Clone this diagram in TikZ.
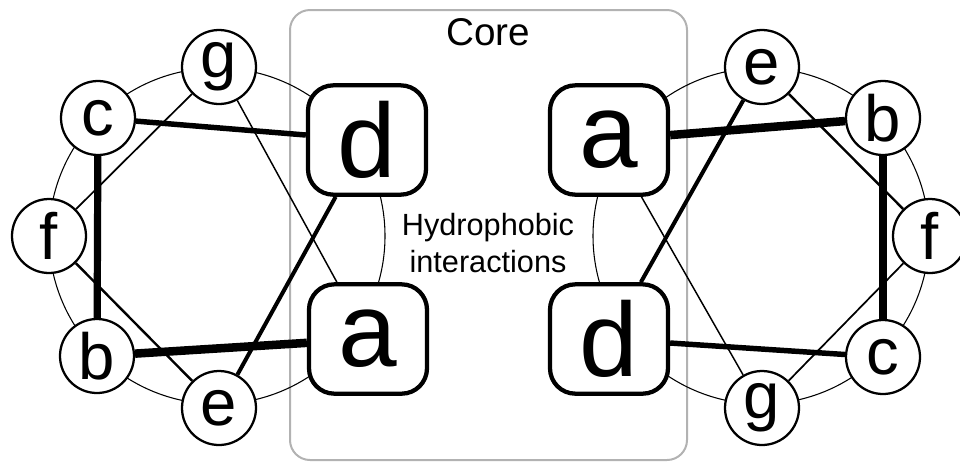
\documentclass[tikz,border=0pt]{standalone}
\usepackage{fontspec}
\setmainfont{Liberation Sans}

\begin{document}
\begin{tikzpicture}[x=0.75pt, y=-0.75pt,
  wheelres/.style={circle, draw, line width=1.7pt, fill=white, minimum size=55.5pt, inner sep=0pt, font=\fontsize{49}{49}\selectfont},
  coreres/.style={rectangle, rounded corners=19pt, draw, line width=3.2pt, fill=white, minimum width=88.5pt, minimum height=82pt, inner sep=0pt, font=\fontsize{79}{79}\selectfont}]
  \useasboundingbox (0,0) rectangle (960,462);
  % core region
  \draw[black!30, line width=1.5pt, rounded corners=15pt] (290,10) rectangle (687,460);
  \node[inner sep=0pt, font=\fontsize{29}{29}\selectfont] (core) at (488,32) {Core};
  \node[inner sep=0pt, align=center, font=\fontsize{23}{28}\selectfont] (hyd) at (488,243) {Hydrophobic\\interactions};
  % wheels
  \draw[line width=0.8pt] (217,236) circle[radius=168];
  \draw[line width=0.8pt] (761,236) circle[radius=168];
  \foreach \n/\x/\y in {g/219/67, c/98/118, f/49/236, b/97/356, e/219/408} {
    \node[wheelres] (l\n) at (\x,\y) {\n};
  }
  \foreach \n/\x/\y in {e/762/67, b/883/118, f/930/236, c/883/357, g/762/408} {
    \node[wheelres] (r\n) at (\x,\y) {\n};
  }
  \node[coreres] (ld) at (367,140) {d};
  \node[coreres] (la) at (368,339) {a};
  \node[coreres] (ra) at (609,140) {a};
  \node[coreres] (rd) at (609,339) {d};
  % heptad links
  \foreach \p/\q/\w in {a/b/6.4, b/c/5.4, c/d/4.1, d/e/3.0, e/f/1.8, f/g/1.3, g/a/1.1} {
    \draw[line width=\w pt] (l\p) -- (l\q);
    \draw[line width=\w pt] (r\p) -- (r\q);
  }
\end{tikzpicture}
\end{document}
